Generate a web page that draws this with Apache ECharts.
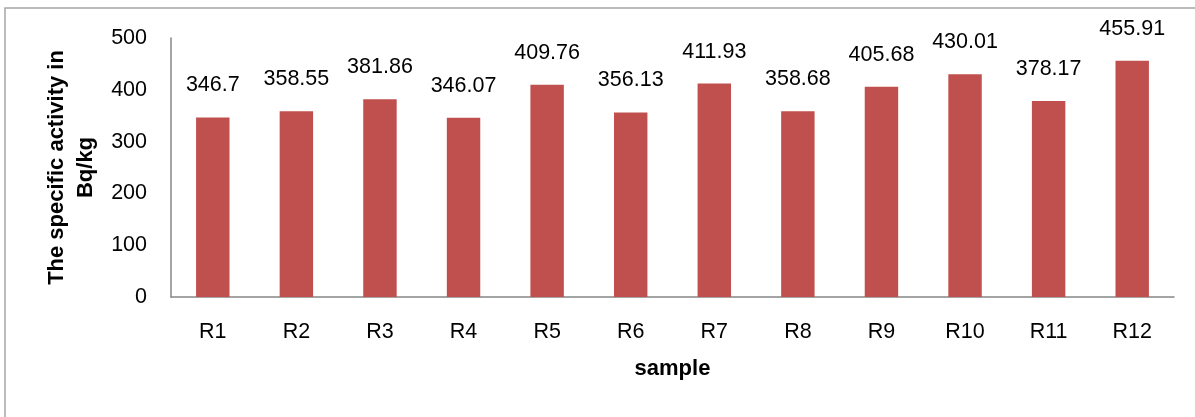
<!DOCTYPE html>
<html>
<head>
<meta charset="utf-8">
<script src="https://cdn.jsdelivr.net/npm/echarts@6/dist/echarts.min.js"></script>
<style>
  html, body { margin: 0; padding: 0; background: #fff; }
  #chart { width: 1195px; height: 417px; }
</style>
</head>
<body>
<div id="chart"></div>
<script>
"use strict";

// samples and their specific activity (Bq/kg)
var samples = ["R1", "R2", "R3", "R4", "R5", "R6", "R7", "R8", "R9", "R10", "R11", "R12"];
var activity = [346.7, 358.55, 381.86, 346.07, 409.76, 356.13, 411.93, 358.68, 405.68, 430.01, 378.17, 455.91];
var yTicks = [0, 100, 200, 300, 400, 500];

var font = "'Liberation Sans', Arial, sans-serif";
var myChart = echarts.init(document.getElementById("chart"));

var option = {
  animation: false,
  textStyle: { fontFamily: font },
  graphic: [
    {
      type: "rect",
      shape: { x: 5, y: 8, width: 1200, height: 420 },
      style: { fill: "none", stroke: "#a6a6a6", lineWidth: 1.5 },
      silent: true
    }
  ],
  grid: {
    left: 171,
    right: 21,
    top: 38,
    bottom: 120
  },
  xAxis: {
    type: "category",
    data: samples,
    name: "sample",
    nameLocation: "middle",
    nameGap: 61,
    nameTextStyle: { fontSize: 22, fontWeight: "bold", color: "#000", fontFamily: font },
    axisLine: { lineStyle: { color: "#868686", width: 1.5 } },
    axisTick: { show: false },
    axisLabel: { margin: 24, fontSize: 21.5, color: "#000", fontFamily: font }
  },
  yAxis: {
    type: "value",
    min: yTicks[0],
    max: yTicks[yTicks.length - 1],
    interval: 100,
    name: "The specific activity in\nBq/kg",
    nameLocation: "middle",
    nameRotate: 90,
    nameGap: 64,
    nameTextStyle: { fontSize: 22, fontWeight: "bold", color: "#000", lineHeight: 29, fontFamily: font },
    axisLine: { show: true, lineStyle: { color: "#868686", width: 1.5 } },
    axisTick: { show: false },
    splitLine: { show: false },
    axisLabel: { margin: 24, fontSize: 21.5, color: "#000", fontFamily: font }
  },
  series: [
    {
      type: "bar",
      data: activity,
      barWidth: "40%",
      itemStyle: { color: "#C0504D" },
      label: {
        show: true,
        position: "top",
        distance: 21,
        fontSize: 21.5,
        color: "#000",
        fontFamily: font
      }
    }
  ]
};

myChart.setOption(option);
window.onresize = function () {
  myChart.resize();
};
</script>
</body>
</html>
